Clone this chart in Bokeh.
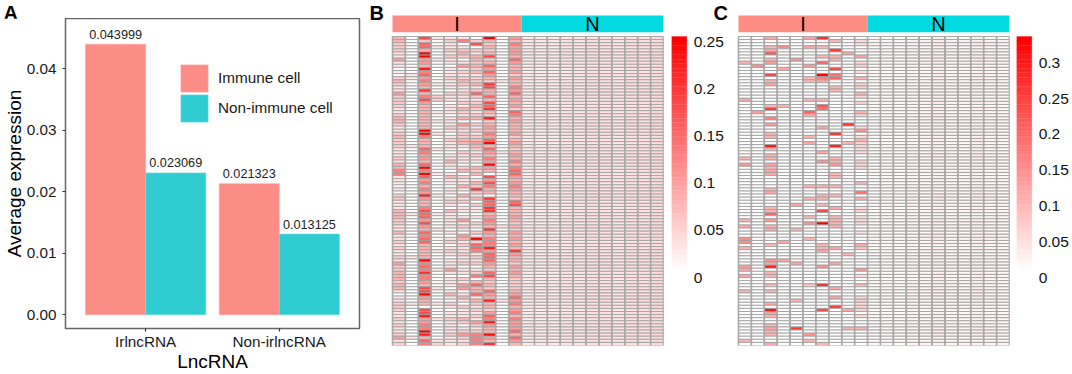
from bokeh.plotting import figure
from bokeh.layouts import row, column
from bokeh.models import (ColumnDataSource, FactorRange, FixedTicker, Legend, LegendItem,
                          LinearColorMapper, Range1d)
from bokeh.core.properties import value
from bokeh.transform import dodge
from bokeh.embed import file_html
from bokeh.resources import INLINE

FONT = "Liberation Sans"

# ---------- panel A ----------
lnc_types = ["IrlncRNA", "Non-irlncRNA"]
immune_expr = [0.043999, 0.021323]
non_immune_expr = [0.023069, 0.013125]
y_ticks_a = [0.0, 0.01, 0.02, 0.03, 0.04]

# ---------- panel B: immune columns, one level per row (level x 0.025), 100 rows ----------
b_level_step = 0.025
b_i1 = "3322211411 0102321142 2221123321 1232221112 1335511101 0221113332 2113112121 1214223332 3310112221 1212112412"
b_i2 = "0000000000 0011000000 0000000000 0000010000 0000000000 0000000100 0000000000 0100000000 0000001000 0000000100"
b_i3 = "72663aa443 9564543835 7433333333 aa53336544 36a5a64535 4943357664 7436566333 33a5658554 377a433077 94455a9365"
b_i4 = "1001000100 0000010002 2000100100 0100001000 0000100000 0100000100 0010000001 0000010000 0100001000 0100000012"
b_i5 = "1211212110 1112111021 1011101112 1012111011 3110131101 1012103111 1101012012 1011141011 1013102101 1211112111"
b_i6 = "1501232014 1212321121 1213213042 1223310211 1023021131 0312011014 1210431211 2112011021 4401310211 1320124212"
b_i7 = "0270213323 2312231262 1232123021 2123432121 1032301328 2130211010 21021a2665 1212012503 6336132121 2142125555"
b_i8 = "a323237236 4643287336 3768329234 3546a36435 4a43074753 3086688345 4384355594 6664326732 3264393324 659433a438"
b_i9 = "0000000000 0000100000 0000000000 0000000100 0000000000 0000000000 0100000000 0000000000 0000010000 0000000000"
b_i10 = "4354443643 3424335463 4342653433 3423432343 5356643454 3326733343 2324343438 4332434322 2234645345 3544463643"
b_immune = [b_i1, b_i2, b_i3, b_i4, b_i5, b_i6, b_i7, b_i8, b_i9, b_i10]
b_non_immune = [0.024, 0.022, 0.024, 0.026, 0.026, 0.03, 0.03, 0.026, 0.032, 0.03, 0.034]
b_ticks = [0, 0.05, 0.1, 0.15, 0.2, 0.25]
b_max = 0.25

# ---------- panel C: immune columns, {row: value}, the rest are zero ----------
c_i1 = {8: .1, 20: .11, 39: .1, 41: .13, 59: .1, 61: .11, 65: .15, 66: .15, 68: .1, 74: .13, 75: .11, 77: .12, 82: .1, 98: .1}
c_i2 = {9: .14, 24: .13}
c_i3 = {0: .12, 3: .1, 4: .11, 5: .22, 7: .1, 8: .13, 12: .24, 14: .1, 15: .12, 22: .1, 23: .25, 26: .16, 28: .13, 31: .1,
        32: .1, 35: .3, 36: .1, 38: .1, 39: .1, 41: .12, 42: .1, 43: .12, 44: .12, 49: .1, 50: .12, 55: .1, 56: .1, 57: .2,
        59: .13, 61: .1, 62: .11, 67: .1, 72: .14, 73: .12, 74: .3, 76: .1, 77: .1, 80: .1, 82: .1, 86: .12, 88: .3, 89: .12,
        90: .1, 93: .1, 94: .12, 95: .1, 96: .1, 99: .12}
c_i4 = {3: .15, 10: .12, 22: .1, 66: .12, 72: .12}
c_i5 = {7: .14, 54: .12, 62: .1, 73: .12, 85: .1, 94: .26}
c_i6 = {0: .12, 3: .12, 9: .13, 13: .09, 14: .1, 20: .1, 24: .2, 25: .12, 32: .1, 34: .12, 48: .1, 52: .1, 58: .1, 60: .14,
        65: .1, 80: .08, 96: .14, 98: .1}
c_i7 = {0: .27, 3: .1, 6: .1, 8: .2, 12: .33, 13: .17, 14: .12, 20: .1, 22: .22, 23: .18, 29: .12, 37: .12, 40: .14, 48: .1,
        51: .1, 52: .1, 54: .1, 56: .24, 60: .33, 67: .1, 68: .1, 69: .12, 74: .14, 80: .27, 88: .23, 99: .1}
c_i8 = {1: .1, 4: .27, 6: .1, 7: .1, 10: .24, 12: .18, 13: .2, 16: .1, 17: .1, 31: .27, 35: .28, 39: .1, 40: .1, 41: .13,
        44: .1, 45: .1, 48: .1, 51: .1, 55: .12, 58: .1, 59: .1, 60: .1, 61: .1, 68: .12, 73: .12, 81: .12, 84: .12, 87: .25}
c_i9 = {5: .12, 28: .27, 34: .1, 70: .1, 88: .12, 94: .1}
c_i10 = {1: .05, 2: .04, 6: .12, 8: .05, 9: .06, 11: .05, 13: .1, 15: .06, 16: .06, 18: .1, 19: .05, 21: .06, 24: .1, 25: .06,
         29: .05, 30: .14, 32: .05, 33: .1, 34: .06, 35: .05, 36: .05, 37: .05, 40: .06, 41: .05, 42: .05, 47: .1, 50: .18,
         52: .1, 55: .05, 56: .06, 58: .05, 59: .05, 60: .05, 63: .04, 67: .11, 68: .08, 75: .13, 77: .05, 80: .1, 84: .05,
         85: .06, 86: .05, 87: .06, 88: .06, 90: .05, 94: .1}
c_immune = [c_i1, c_i2, c_i3, c_i4, c_i5, c_i6, c_i7, c_i8, c_i9, c_i10]
c_non_immune = [0.01, 0.01, 0.012, 0.014, 0.014, 0.02, 0.016, 0.014, 0.022, 0.016, 0.018]
c_ticks = [0, 0.05, 0.1, 0.15, 0.2, 0.25, 0.3]
c_max = 0.33

groups = ["I", "N"]
group_sizes = [10, 11]
n_rows = 100

RED_RAMP = ["#ff%02x%02x" % (g, g) for g in range(255, -1, -5)]
CELL_LINE = "#a0a0a0"
ROW_PX = 3.09
COL_PX = 271 / 21


def level(ch):
    return int(ch, 16) * b_level_step


def b_matrix():
    cols = [[level(c) for c in s.replace(" ", "")] for s in b_immune]
    cols += [[v] * n_rows for v in b_non_immune]
    return cols


def c_matrix():
    cols = [[d.get(r, 0.0) for r in range(n_rows)] for d in c_immune]
    cols += [[v] * n_rows for v in c_non_immune]
    return cols


def letter(p, text, x, y):
    p.text(x=[x], y=[y], text=[text], text_font=value(FONT), text_font_style="bold", text_font_size="20px",
           text_color="black", text_baseline="middle", text_align="left")


def heat_panel(cols, vmax, width, left, right, panel_letter=None):
    # the frame reaches the top of the canvas and 1px from its left, so that the letter can sit inside it
    top_space = 36 / ROW_PX
    strip_top = -21 / ROW_PX
    left_space = (left - 1) / COL_PX
    p = figure(width=width, height=374, output_backend="svg", toolbar_location=None,
               x_range=Range1d(-left_space, len(cols)), y_range=Range1d(n_rows, -top_space),
               x_axis_type=None, y_axis_type=None, min_border_left=1, min_border_right=right,
               min_border_top=0, min_border_bottom=29, outline_line_color=None)
    p.grid.visible = False
    xs, ys, vs = [], [], []
    for c, col in enumerate(cols):
        for r, v in enumerate(col):
            xs.append(c); ys.append(r); vs.append(v)
    src = ColumnDataSource(dict(l=xs, r=[x + 1 for x in xs], t=ys, b=[y + 1 for y in ys], v=vs))
    mapper = LinearColorMapper(palette=RED_RAMP[:], low=0, high=vmax)
    p.quad(left="l", right="r", top="t", bottom="b", source=src,
           fill_color={"field": "v", "transform": mapper}, line_color=CELL_LINE, line_width=0.9)
    # column separators
    seps = list(range(len(cols) + 1))
    p.segment(x0=seps, x1=seps, y0=[0] * len(seps), y1=[n_rows] * len(seps), line_color="#a8a8a8", line_width=1.6)
    # annotation strip
    starts = [0, group_sizes[0]]
    ends = [group_sizes[0], group_sizes[0] + group_sizes[1]]
    p.quad(left=starts, right=ends, top=[strip_top] * 2, bottom=[-1.35] * 2,
           fill_color=["#fc8c84", "#02dae2"], line_color=None)
    p.text(x=[(a + b) / 2 for a, b in zip(starts, ends)], y=[(strip_top - 1.35) / 2] * 2, text=groups,
           text_font=value(FONT), text_font_size="20px", text_color="black",
           text_align="center", text_baseline="middle")
    if panel_letter:
        letter(p, panel_letter, -left_space, -(36 - 12) / ROW_PX)
    return p


def colorbar_panel(ticks, vmax, width, left, right, panel_letter=None):
    px_per_unit = 236 / vmax
    # the bar runs from y=36 to y=272; the frame from y=0 to y=290
    bar_w = 15.3
    frame_w = width - left - right
    p = figure(width=width, height=374, output_backend="svg", toolbar_location=None,
               x_range=Range1d(0, frame_w / bar_w), y_range=Range1d(-18 / px_per_unit, vmax + 36 / px_per_unit),
               x_axis_type=None, y_axis_type=None, min_border_left=left, min_border_right=right,
               min_border_top=0, min_border_bottom=84, outline_line_color=None)
    p.grid.visible = False
    n = len(RED_RAMP)
    edges = [vmax * i / n for i in range(n + 1)]
    p.quad(left=0, right=1, bottom=edges[:-1], top=edges[1:], fill_color=RED_RAMP, line_color=RED_RAMP,
           line_width=0.3)
    p.text(x=[1.45] * len(ticks), y=ticks, text=[f"{t:g}" for t in ticks], y_offset=5,
           text_font=value(FONT), text_font_size="15.5px", text_color="#111111", text_baseline="middle")
    if panel_letter:
        letter(p, panel_letter, 42 / bar_w, vmax + 24 / px_per_unit)
    return p


# ---------- panel A figure ----------
strip_a = figure(width=368, height=24, output_backend="svg", toolbar_location=None,
                 x_range=Range1d(0, 368), y_range=Range1d(24, 0), x_axis_type=None, y_axis_type=None,
                 min_border=0, outline_line_color=None)
strip_a.grid.visible = False
letter(strip_a, "A", 3, 12)

pa = figure(width=368, height=356, output_backend="svg", toolbar_location=None,
            x_range=FactorRange(factors=lnc_types, range_padding=0.1, range_padding_units="absolute"),
            y_range=Range1d(-0.00223, 0.04817),
            min_border_left=65, min_border_right=9, min_border_top=0, min_border_bottom=46,
            x_axis_label="LncRNA", y_axis_label="Average expression")
src_a = ColumnDataSource(dict(cat=lnc_types, immune=immune_expr, non=non_immune_expr,
                              immune_txt=[f"{v:.6f}" for v in immune_expr],
                              non_txt=[f"{v:.6f}" for v in non_immune_expr]))
r1 = pa.vbar(x=dodge("cat", -0.225, range=pa.x_range), top="immune", width=0.45, source=src_a,
             fill_color="#fb8d86", line_color="#fdaaa4", line_width=0.6)
r2 = pa.vbar(x=dodge("cat", 0.225, range=pa.x_range), top="non", width=0.45, source=src_a,
             fill_color="#2fccd1", line_color="#6fdde0", line_width=0.6)
for col, txt, off in (("immune", "immune_txt", -0.225), ("non", "non_txt", 0.225)):
    pa.text(x=dodge("cat", off, range=pa.x_range), y=col, text=txt, source=src_a, y_offset=-10,
            text_font=value(FONT), text_font_size="12.7px", text_color="#222222",
            text_align="center", text_baseline="alphabetic")
pa.grid.visible = False
pa.outline_line_color = "#666666"
pa.outline_line_width = 1.5
pa.yaxis.ticker = FixedTicker(ticks=y_ticks_a)
pa.yaxis.formatter.use_scientific = False
pa.yaxis.major_label_overrides = {t: f"{t:.2f}" for t in y_ticks_a}
for ax in (pa.xaxis[0], pa.yaxis[0]):
    ax.axis_line_color = None
    ax.major_tick_line_color = "#333333"
    ax.major_tick_line_width = 1.2
    ax.major_tick_in = 0
    ax.major_tick_out = 3
    ax.minor_tick_line_color = None
    ax.major_label_text_font = FONT
    ax.major_label_text_font_size = "15.3px"
    ax.major_label_text_color = "#1a1a1a"
    ax.axis_label_text_font = FONT
    ax.axis_label_text_font_style = "normal"
    ax.axis_label_text_font_size = "19px"
    ax.axis_label_text_color = "black"
pa.xaxis.major_label_standoff = 1
pa.xaxis.axis_label_standoff = -2
pa.xaxis.axis_label_text_line_height = 0.9
pa.xaxis.major_label_text_line_height = 0.9
pa.yaxis.major_label_standoff = 6
pa.yaxis.axis_label_standoff = -1
for lbl, rend, bottom in (("Immune cell", r1, 233), ("Non-immune cell", r2, 203)):
    pa.add_layout(Legend(items=[LegendItem(label=lbl, renderers=[rend])],
                         location=(112, bottom), orientation="vertical", margin=0, padding=0, spacing=0,
                         glyph_width=34, glyph_height=34, label_height=27, label_standoff=7,
                         label_text_font=FONT, label_text_font_size="15.3px", label_text_color="#1a1a1a",
                         background_fill_alpha=0, border_line_color=None))

# ---------- heat panels ----------
pb = heat_panel(b_matrix(), b_max, 299, 24, 4, "B")
cb_b = colorbar_panel(b_ticks, b_max, 62, 4, 0, "C")
pc = heat_panel(c_matrix(), c_max, 283, 9, 3)
cb_c = colorbar_panel(c_ticks, c_max, 60, 4, 0)

panel_a = column(row(strip_a), row(pa, styles={"margin-top": "-6px"}), spacing=0)
page = row(panel_a, column(pb), column(cb_b), column(pc), column(cb_c), spacing=0)
open("out.html", "w").write(file_html(page, INLINE))
